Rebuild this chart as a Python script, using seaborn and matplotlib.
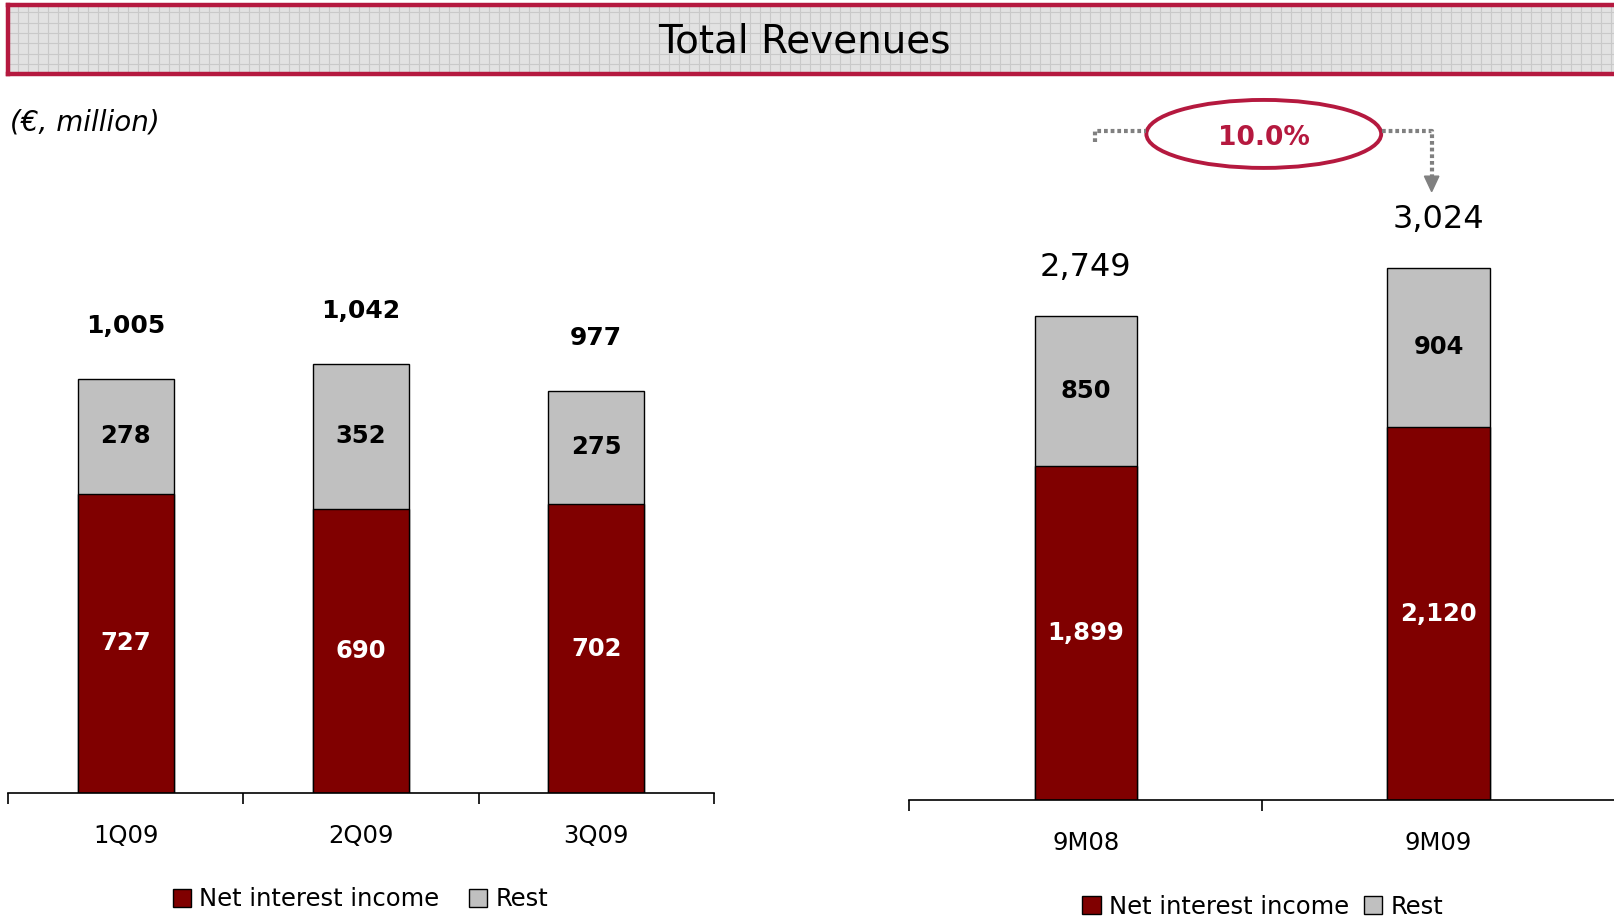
import matplotlib.pyplot as plt
import matplotlib.ticker as ticker
from matplotlib.patches import Ellipse, Patch
from matplotlib.lines import Line2D
import seaborn as sns
import numpy as np

# Data
quarters = ["1Q09", "2Q09", "3Q09"]
q_nii = [727, 690, 702]
q_rest = [278, 352, 275]
q_total = [1005, 1042, 977]

periods = ["9M08", "9M09"]
p_nii = [1899, 2120]
p_rest = [850, 904]
p_total = [2749, 3024]

growth_label = "10.0%"

NII_COLOR = "#800000"
REST_COLOR = "#C0C0C0"
RED = "#B5193F"
GREY = "#808080"

sns.set_theme(style="white")
plt.rcParams['font.family'] = ['DejaVu Sans']
plt.rcParams['text.color'] = 'black'
plt.rcParams['xtick.color'] = 'black'
plt.rcParams['xtick.labelcolor'] = 'black'

W, H = 1568.0, 894.0  # layout measured on reference


def fx(px):
    return px / W


def fy(py):
    return 1 - py / H


fig = plt.figure(figsize=(16.15, 9.21), dpi=100)

# Title banner
bax = fig.add_axes([fx(8), fy(72), 1 - fx(8) + 0.01, fy(5) - fy(72)])
bax.set_facecolor("#E2E2E2")
bax.set_xlim(0, 1620)
bax.set_ylim(0, 67)
bax.set_xticks(np.arange(0, 1620, 10))
bax.set_yticks(np.arange(0, 67, 10))
bax.grid(True, color="#C9C9C9", linewidth=0.8)
bax.tick_params(length=0, labelbottom=False, labelleft=False)
for sp in bax.spines.values():
    sp.set_color(RED)
    sp.set_linewidth(3.2)
fig.text(fx(781), fy(40), "Total Revenues", ha="center", va="center",
         fontsize=28, color="black")

fig.text(fx(10), fy(119), "(€, million)", fontsize=20, fontstyle="italic", va="center", ha="left")


def stacked(ax, cats, nii, rest, total, width, top, total_kw, offset):
    sns.barplot(x=cats, y=total, color=REST_COLOR, saturation=1, width=width,
                edgecolor="black", linewidth=1, ax=ax)
    sns.barplot(x=cats, y=nii, color=NII_COLOR, saturation=1, width=width,
                edgecolor="black", linewidth=1, ax=ax)
    n = len(cats)
    ax.set_xlim(-0.5, n - 0.5)
    ax.set_ylim(0, top)
    for i in range(n):
        ax.text(i, nii[i] / 2, f"{nii[i]:,}", ha="center", va="center", color="white",
                fontsize=17.5, fontweight="bold")
        ax.text(i, nii[i] + rest[i] / 2, f"{rest[i]:,}", ha="center", va="center",
                color="black", fontsize=17.5, fontweight="bold")
        ax.annotate(f"{total[i]:,}", xy=(i, total[i]), xytext=(0, offset),
                    textcoords="offset points", ha="center", va="center", **total_kw)
    for sp in ["top", "right", "left"]:
        ax.spines[sp].set_visible(False)
    ax.spines["bottom"].set_color("black")
    ax.spines["bottom"].set_linewidth(1.2)
    ax.set_yticks([])
    ax.set_xticks(np.arange(-0.5, n, 1.0), minor=True)
    ax.tick_params(axis="x", which="major", length=0, labelsize=17.5, pad=22, labelcolor="black")
    ax.tick_params(axis="x", which="minor", length=8, width=1.2, color="black", bottom=True)
    ax.set_xlabel("")
    ax.set_ylabel("")


ax1 = fig.add_axes([fx(8), fy(770), fx(693) - fx(8), fy(250) - fy(770)])
stacked(ax1, quarters, q_nii, q_rest, q_total, 0.41, 1300,
        dict(fontsize=18, fontweight="bold", color="black"), 38)

ax2 = fig.add_axes([fx(883), fy(777), fx(1568) - fx(883), fy(178.5) - fy(777)])
stacked(ax2, periods, p_nii, p_rest, p_total, 0.29, 3500,
        dict(fontsize=23, color="black"), 35)

# Growth bubble with dotted connector
dots = (0, (0.9, 0.7))
fig.add_artist(Ellipse((fx(1227), fy(130)), fx(228), 66 / H, transform=fig.transFigure,
                       facecolor="white", edgecolor=RED, linewidth=2.8))
fig.text(fx(1227), fy(134), growth_label, color=RED, fontsize=19, fontweight="bold",
         ha="center", va="center")
fig.add_artist(Line2D([fx(1063), fx(1063), fx(1113)], [fy(138), fy(127), fy(127)],
                      transform=fig.transFigure, color=GREY, linestyle=dots, linewidth=3))
fig.add_artist(Line2D([fx(1342), fx(1390), fx(1390)], [fy(127), fy(127), fy(172)],
                      transform=fig.transFigure, color=GREY, linestyle=dots, linewidth=3))
fig.add_artist(plt.Polygon([[fx(1383), fy(171)], [fx(1397), fy(171)], [fx(1390), fy(186)]],
                           closed=True, transform=fig.transFigure, color=GREY))

# Legends
handles = [Patch(facecolor=NII_COLOR, edgecolor="black", label="Net interest income"),
           Patch(facecolor=REST_COLOR, edgecolor="black", label="Rest")]
for cx, cy, cs in [(fx(350), fy(873), 1.2), (fx(1226), fy(880), 0.6)]:
    leg = fig.legend(handles=handles, loc="center", bbox_to_anchor=(cx, cy), ncol=2, frameon=False,
                     fontsize=17.5, handlelength=0.75, handleheight=0.75, handletextpad=0.35,
                     columnspacing=cs, borderaxespad=0, borderpad=0)
    for t in leg.get_texts():
        t.set_color("black")

plt.savefig("out.png", dpi=100, facecolor="white")
plt.close()
